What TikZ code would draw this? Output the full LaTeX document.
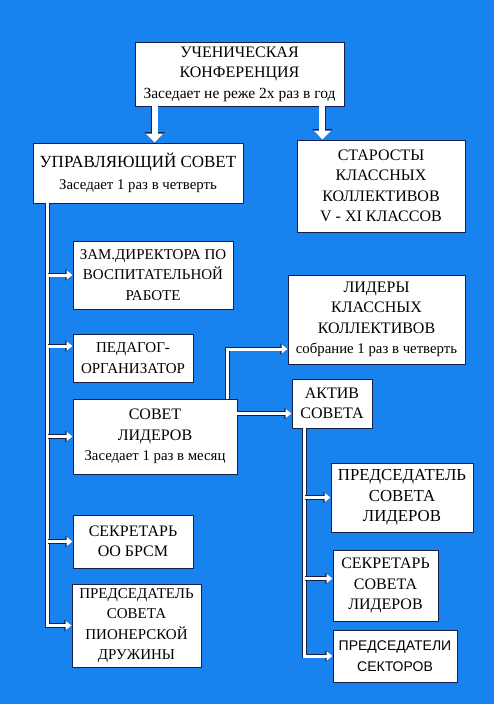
\documentclass[tikz,border=0pt]{standalone}
\usepackage{fontspec}
\setmainfont{Liberation Serif}
\newfontfamily\sansru{Liberation Sans}
\usetikzlibrary{arrows.meta}
\definecolor{bgblue}{RGB}{24,130,238}
\definecolor{edgecol}{RGB}{22,32,72}
\newcommand{\meet}[2][14.8]{{\fontsize{#1}{17}\selectfont #2}}

\begin{document}
\begin{tikzpicture}[x=1pt,y=-1pt,
    box/.style={draw=edgecol,fill=white,line width=0.9pt,inner sep=0pt,align=center,
        font=\fontsize{16}{20.5}\selectfont},
    link/.style={draw=white,line width=3pt,-{Triangle[length=6pt,width=9pt]},
        preaction={draw=edgecol,line width=4.4pt,-{Triangle[length=7.2pt,width=11pt]}}},
    bigarrow/.style={draw=white,line width=6pt,-{Triangle[length=9pt,width=17pt]},
        preaction={draw=edgecol,line width=7.4pt,-{Triangle[length=10.4pt,width=19.5pt]}}}]
                        \fill[bgblue] (0,0) rectangle (494,704);
                        \node[box,minimum width=209pt,minimum height=64pt] (conf) at (239.5,74)
                            {УЧЕНИЧЕСКАЯ\\КОНФЕРЕНЦИЯ\\\meet[15.5]{Заседает не реже 2х раз в год}};
                        \node[box,minimum width=210pt,minimum height=60pt,font=\fontsize{17}{22}\selectfont]
                            (upr) at (138,173) {УПРАВЛЯЮЩИЙ СОВЕТ\\\meet{Заседает 1 раз в четверть}};
                        \node[box,minimum width=168pt,minimum height=92pt] (star) at (381,186)
                            {СТАРОСТЫ\\КЛАССНЫХ\\КОЛЛЕКТИВОВ\\V - XI КЛАССОВ};
                        \node[box,minimum width=160pt,minimum height=68pt,font=\fontsize{15}{20.5}\selectfont]
                            (zam) at (153,275) {ЗАМ.ДИРЕКТОРА ПО\\ВОСПИТАТЕЛЬНОЙ\\РАБОТЕ};
                        \node[box,minimum width=120pt,minimum height=48pt,font=\fontsize{15}{20.5}\selectfont]
                            (ped) at (133,358) {ПЕДАГОГ-\\ОРГАНИЗАТОР};
                        \node[box,minimum width=164pt,minimum height=75pt] (sovl) at (155,436.5)
                            {СОВЕТ\\ЛИДЕРОВ\\\meet{Заседает 1 раз в месяц}};
                        \node[box,minimum width=120pt,minimum height=53pt] (sekr) at (133,541.5)
                            {СЕКРЕТАРЬ\\ОО БРСМ};
                        \node[box,minimum width=129pt,minimum height=83pt,font=\fontsize{15}{20.5}\selectfont]
                            (pion) at (136.5,625.5) {ПРЕДСЕДАТЕЛЬ\\СОВЕТА\\ПИОНЕРСКОЙ\\ДРУЖИНЫ};
                        \node[box,minimum width=177pt,minimum height=89pt] (lid) at (376.5,319.5)
                            {ЛИДЕРЫ\\КЛАССНЫХ\\КОЛЛЕКТИВОВ\\\meet{собрание 1 раз в четверть}};
                        \node[box,minimum width=80pt,minimum height=49pt] (akt) at (332,403.5)
                            {АКТИВ\\СОВЕТА};
                        \node[box,minimum width=142pt,minimum height=69pt,font=\fontsize{16.8}{20.5}\selectfont]
                            (pred) at (402,497.5) {ПРЕДСЕДАТЕЛЬ\\СОВЕТА\\ЛИДЕРОВ};
                        \node[box,minimum width=105pt,minimum height=71pt] (sekl) at (385.5,585.5)
                            {СЕКРЕТАРЬ\\СОВЕТА\\ЛИДЕРОВ};
                        \node[box,minimum width=124pt,minimum height=52pt,font=\sansru\fontsize{14}{21}\selectfont]
                            (sekt) at (395,656) {ПРЕДСЕДАТЕЛИ\\СЕКТОРОВ};
                        \coordinate (c1) at ([xshift=20pt]conf.south west);
                        \coordinate (c2) at ([xshift=-22pt]conf.south east);
                        \draw[bigarrow] (c1) -- (c1 |- upr.north);
                        \draw[bigarrow] (c2) -- (c2 |- star.north);
                        \coordinate (lt) at ([xshift=15pt]upr.south west);
                        \coordinate (pedin) at ([yshift=12pt]ped.west);
                        \draw[link] (lt) |- (pion.west);
                        \draw[link] (lt |- zam.west) -- (zam.west);
                        \draw[link] (lt |- pedin) -- (pedin);
                        \draw[link] (lt |- sovl.west) -- (sovl.west);
                        \draw[link] (lt |- sekr.west) -- (sekr.west);
                        \coordinate (lidin) at ([yshift=-29.5pt]lid.west);
                        \coordinate (aktin) at ([yshift=-10pt]akt.west);
                        \draw[link] ([xshift=-10pt]sovl.north east) |- (lidin);
                        \draw[link] (sovl.east |- aktin) -- (aktin);
                        \coordinate (rt) at ([xshift=13pt]akt.south west);
                        \coordinate (seklin) at ([yshift=7pt]sekl.west);
                        \draw[link] (rt) |- (sekt.west);
                        \draw[link] (rt |- pred.west) -- (pred.west);
                        \draw[link] (rt |- seklin) -- (seklin);
                    \end{tikzpicture}
\end{document}
